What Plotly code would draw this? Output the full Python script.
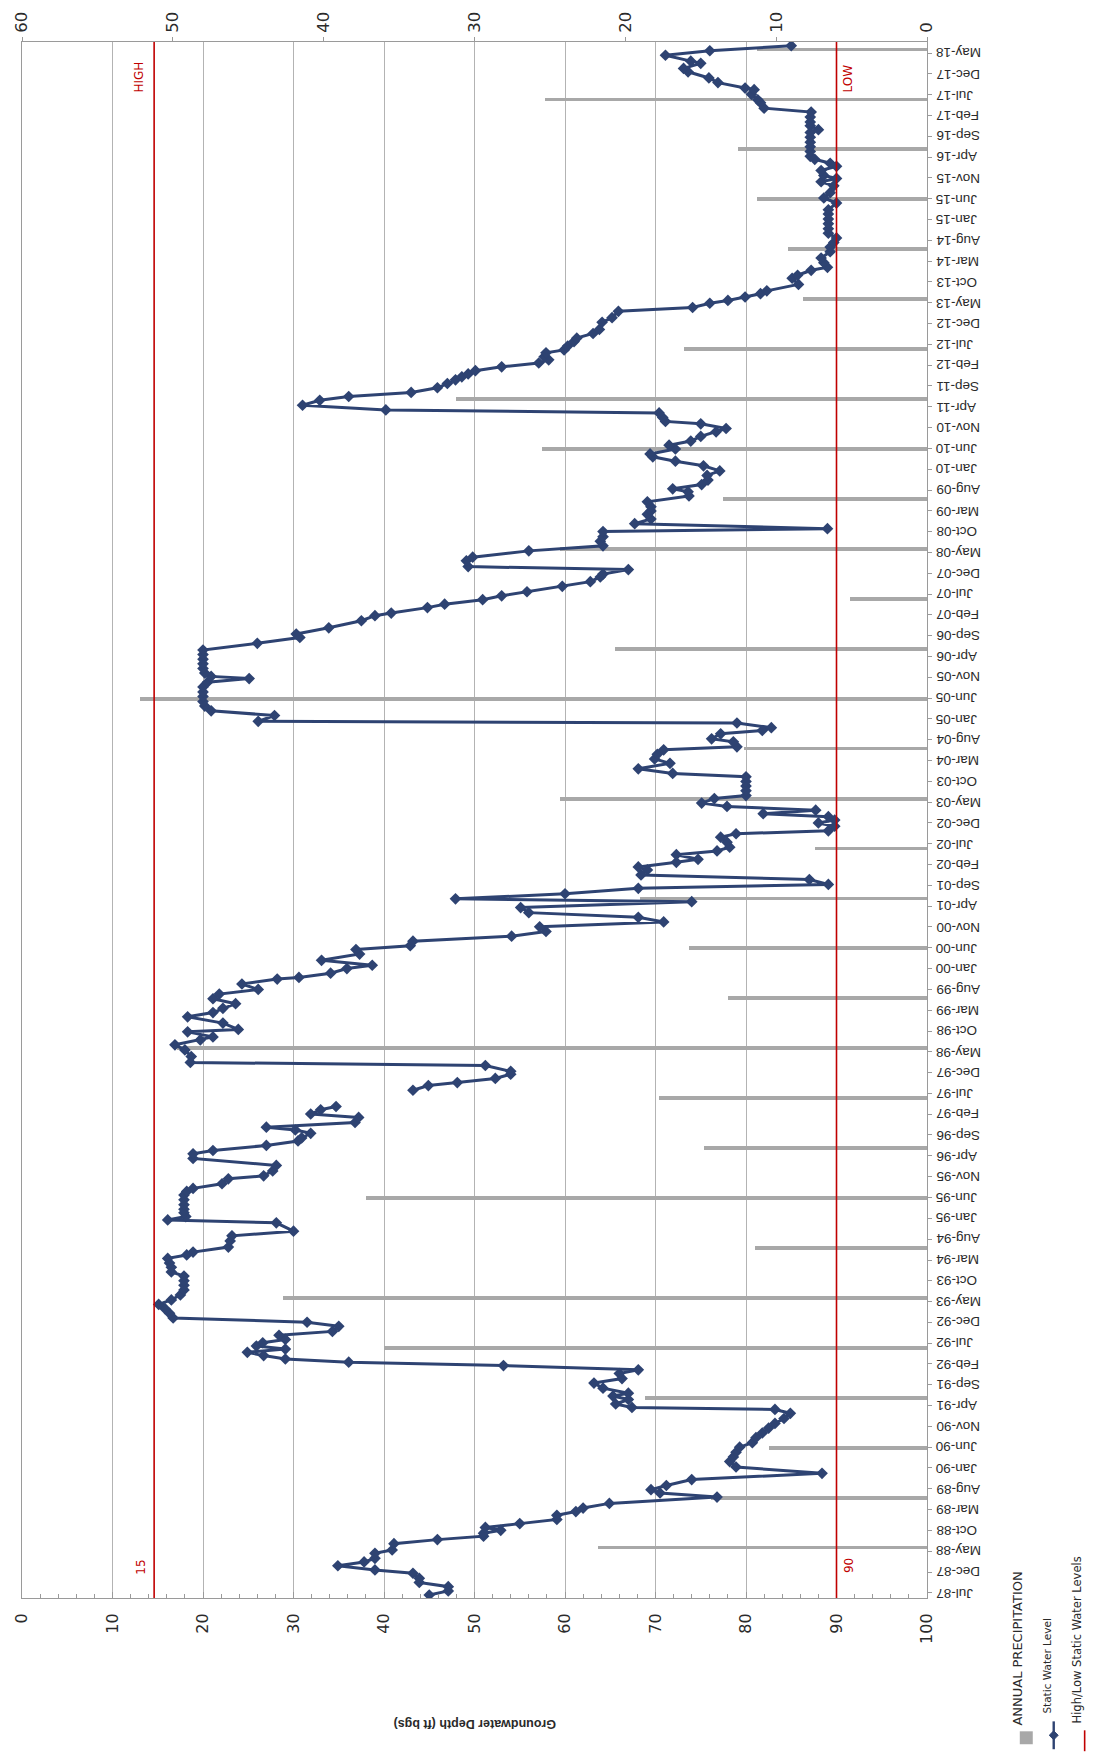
import pandas as pd
import plotly.graph_objects as go

# ---------------- data ----------------
level_dates = [
    "1987-06-16", "1987-07-16", "1987-08-16", "1987-09-16", "1987-10-16", "1987-11-22", "1987-12-16",
    "1988-01-16", "1988-02-13", "1988-03-10", "1988-04-16", "1988-05-10", "1988-06-25", "1988-07-25",
    "1988-08-19", "1988-09-10", "1988-10-01", "1988-10-22", "1988-11-19", "1988-12-19",
    "1989-01-19", "1989-02-15", "1989-03-13", "1989-04-16", "1989-06-01", "1989-07-01", "1989-07-25",
    "1989-08-25", "1989-10-07", "1989-11-22",
    "1990-01-07", "1990-02-16", "1990-03-22", "1990-04-25", "1990-06-01", "1990-07-04", "1990-08-10",
    "1990-09-13", "1990-10-19", "1990-11-22", "1990-12-28",
    "1991-02-04", "1991-03-04", "1991-03-19", "1991-04-13", "1991-05-16", "1991-06-10", "1991-07-01",
    "1991-08-07", "1991-09-13", "1991-10-16", "1991-11-22", "1991-12-19",
    "1992-01-19", "1992-02-13", "1992-03-07", "1992-04-01", "1992-04-25", "1992-05-19", "1992-06-10",
    "1992-07-04", "1992-07-28", "1992-08-28", "1992-09-25", "1992-11-01", "1992-12-01",
    "1993-01-01", "1993-02-04", "1993-03-10", "1993-04-10", "1993-05-13", "1993-06-19", "1993-07-25",
    "1993-08-28", "1993-10-01", "1993-11-04", "1993-12-04",
    "1994-01-07", "1994-02-07", "1994-03-13", "1994-04-07", "1994-04-28", "1994-06-04", "1994-07-19",
    "1994-08-25", "1994-09-28", "1994-11-28", "1994-12-19",
    "1995-01-13", "1995-02-10", "1995-03-07", "1995-04-10", "1995-05-16", "1995-06-19", "1995-07-16",
    "1995-08-07", "1995-09-10", "1995-10-16", "1995-11-07", "1995-12-13",
    "1996-01-22", "1996-03-13", "1996-04-16", "1996-05-10", "1996-06-16", "1996-07-19", "1996-08-10",
    "1996-09-13", "1996-10-07", "1996-10-28", "1996-12-01",
    "1997-01-07", "1997-02-01", "1997-03-04", "1997-03-28", "1997-05-15", "1997-07-25", "1997-08-28",
    "1997-09-19", "1997-10-19", "1997-11-19", "1997-12-10",
    "1998-01-22", "1998-02-13", "1998-03-28", "1998-05-16", "1998-06-22", "1998-07-28", "1998-08-19",
    "1998-09-25", "1998-10-13", "1998-11-28",
    "1999-01-13", "1999-02-13", "1999-03-16", "1999-04-19", "1999-05-25", "1999-06-28", "1999-08-01",
    "1999-09-10", "1999-10-16", "1999-10-28", "1999-11-28",
    "2000-01-01", "2000-01-25", "2000-03-01", "2000-04-16", "2000-05-19", "2000-06-16", "2000-07-19",
    "2000-08-25", "2000-09-28", "2000-11-01", "2000-12-07",
    "2001-01-10", "2001-02-13", "2001-03-22", "2001-05-04", "2001-05-25", "2001-07-01", "2001-08-10",
    "2001-09-07", "2001-10-13", "2001-11-16", "2001-12-22",
    "2002-01-13", "2002-02-16", "2002-03-10", "2002-04-13", "2002-05-10", "2002-06-07", "2002-07-13",
    "2002-08-19", "2002-09-13", "2002-10-04", "2002-11-07", "2002-12-01", "2002-12-22",
    "2003-01-16", "2003-02-07", "2003-03-04", "2003-04-01", "2003-04-25", "2003-05-28", "2003-06-19",
    "2003-07-25", "2003-08-28", "2003-10-01", "2003-11-04", "2003-11-28",
    "2004-01-01", "2004-02-10", "2004-03-13", "2004-04-16", "2004-05-19", "2004-06-10", "2004-07-16",
    "2004-08-07", "2004-09-13", "2004-10-07", "2004-10-28", "2004-12-01", "2004-12-13",
    "2005-01-25", "2005-02-28", "2005-04-04", "2005-05-07", "2005-06-13", "2005-07-16", "2005-08-22",
    "2005-09-25", "2005-10-22", "2005-11-07", "2005-12-01",
    "2006-01-04", "2006-02-07", "2006-03-13", "2006-04-16", "2006-05-19", "2006-07-07", "2006-08-19",
    "2006-09-13", "2006-10-28", "2006-12-19",
    "2007-01-25", "2007-02-13", "2007-03-25", "2007-04-19", "2007-05-22", "2007-06-19", "2007-07-19",
    "2007-08-28", "2007-10-01", "2007-11-04", "2007-11-25", "2007-12-28",
    "2008-01-19", "2008-03-01", "2008-03-28", "2008-05-13", "2008-06-19", "2008-07-22", "2008-08-25",
    "2008-10-01", "2008-10-22", "2008-11-28",
    "2009-01-01", "2009-02-04", "2009-03-01", "2009-04-01", "2009-05-07", "2009-06-19", "2009-07-19",
    "2009-08-10", "2009-09-10", "2009-10-13", "2009-11-16", "2009-12-19",
    "2010-01-25", "2010-02-28", "2010-04-01", "2010-04-22", "2010-05-28", "2010-06-25", "2010-07-25",
    "2010-08-28", "2010-10-01", "2010-10-25", "2010-11-28", "2010-12-16",
    "2011-01-13", "2011-02-16", "2011-03-10", "2011-04-13", "2011-05-19", "2011-06-16", "2011-07-16",
    "2011-08-19", "2011-09-19", "2011-10-16", "2011-11-07", "2011-11-28", "2011-12-22",
    "2012-01-19", "2012-02-16", "2012-03-10", "2012-04-01", "2012-05-01", "2012-05-22", "2012-06-19",
    "2012-07-22", "2012-08-16", "2012-09-19", "2012-10-19", "2012-12-10",
    "2013-01-13", "2013-02-28", "2013-03-28", "2013-04-28", "2013-05-19", "2013-06-13", "2013-07-07",
    "2013-07-28", "2013-09-13", "2013-10-28", "2013-11-19", "2013-12-25",
    "2014-01-16", "2014-02-19", "2014-03-25", "2014-05-10", "2014-06-13", "2014-07-16", "2014-08-19",
    "2014-09-22", "2014-10-25", "2014-12-01",
    "2015-01-04", "2015-02-10", "2015-03-13", "2015-05-01", "2015-06-07", "2015-07-16", "2015-09-04",
    "2015-10-04", "2015-10-28", "2015-11-19", "2015-12-25",
    "2016-01-25", "2016-02-16", "2016-03-16", "2016-04-07", "2016-05-13", "2016-06-16", "2016-07-19",
    "2016-08-25", "2016-09-28", "2016-10-19", "2016-11-16", "2016-12-13",
    "2017-01-19", "2017-02-25", "2017-03-25", "2017-05-04", "2017-05-25", "2017-07-04", "2017-08-07",
    "2017-08-19", "2017-09-28", "2017-11-01", "2017-12-16",
    "2018-01-10", "2018-02-16", "2018-03-04", "2018-04-16", "2018-05-19", "2018-06-25",
]

level_depth = [
    45.0, 47.1, 47.1, 43.9, 43.9, 43.2, 39.0,
    34.9, 37.8, 39.0, 39.0, 40.9, 41.1, 45.9,
    51.0, 51.0, 52.9, 51.2, 55.0, 59.1,
    59.1, 61.2, 62.0, 64.9, 76.8, 70.5, 69.5,
    71.2, 74.0, 88.4,
    78.9, 78.2, 78.6, 78.9, 79.3, 80.7, 81.1,
    81.8, 82.5, 83.2, 84.2,
    84.9, 83.2, 67.4, 65.6, 67.0, 65.3, 67.0,
    64.2, 63.2, 66.3, 66.0, 68.1,
    53.2, 36.1, 29.1, 26.7, 24.9, 29.1, 25.9,
    26.6, 29.1, 28.4, 34.3, 35.0, 31.5,
    16.7, 16.3, 15.8, 15.1, 16.5, 17.5, 17.9,
    17.9, 17.9, 17.9, 16.5,
    16.5, 16.3, 16.1, 18.2, 18.9, 22.8, 23.0,
    23.2, 30.0, 28.1, 16.1,
    18.1, 17.9, 17.9, 17.9, 17.9, 17.9, 18.2,
    18.9, 22.1, 22.8, 26.7, 27.7,
    28.1, 18.9, 18.9, 21.1, 27.0, 30.5, 30.9,
    31.9, 30.2, 27.0, 36.8,
    37.2, 31.9, 33.0, 34.7, None, 43.2, 44.9,
    48.1, 52.3, 54.0, 54.0,
    51.2, 18.6, 18.7, 18.0, 16.9, 19.7, 21.1,
    18.3, 23.9, 22.2,
    18.3, 21.1, 22.2, 23.6, 21.1, 21.8, 26.1,
    24.3, 28.2, 30.6, 34.1,
    35.9, 38.7, 33.1, 37.3, 36.9, 42.9, 43.2,
    54.1, 57.9, 57.2, 70.9,
    68.1, 56.0, 55.1, 74.0, 47.9, 60.0, 68.1,
    89.1, 87.0, 68.4, 69.1,
    68.1, 72.3, 74.7, 72.3, 76.8, 78.2, 77.9,
    77.2, 78.9, 89.1, 89.8, 88.0, 89.8,
    89.1, 81.9, 87.7, 77.9, 75.1, 76.5, 80.0,
    80.0, 80.0, 80.0, 80.0, 71.9,
    68.1, 71.6, 69.9, 70.2, 70.9, 79.0, 78.6,
    76.2, 77.2, 81.8, 82.8, 79.0, 26.1,
    27.9, 20.9, 20.2, 20.0, 20.0, 20.0, 20.0,
    20.5, 25.1, 20.9, 20.2,
    20.0, 20.0, 20.0, 20.0, 20.0, 26.0, 30.7,
    30.3, 33.9, 37.5,
    39.0, 40.8, 44.8, 46.7, 50.9, 53.0, 55.8,
    59.7, 62.8, 63.9, 64.2, 67.0,
    49.3, 49.1, 49.8, 56.0, 64.2, 63.9, 64.2,
    64.2, 89.0, 67.7,
    69.5, 69.1, 69.5, 69.5, 69.1, 73.7, 73.6,
    71.9, 75.1, 75.8, 75.7, 77.1,
    75.3, 72.2, 69.7, 69.4, 72.2, 71.5, 73.9,
    75.0, 76.7, 77.8, 75.0, 71.1,
    70.8, 70.4, 40.2, 31.0, 32.9, 36.1, 43.0,
    45.9, 47.0, 47.9, 48.6, 49.3, 50.1,
    53.0, 57.1, 58.2, 57.7, 57.9, 59.9, 60.3,
    61.0, 61.3, 63.1, 63.8, 64.1,
    65.2, 65.9, 74.1, 76.0, 78.0, 79.9, 81.6,
    82.3, 85.8, 85.1, 85.7, 87.2,
    89.0, 88.6, 88.3, 89.3, 89.3, 89.7, 90.0,
    89.1, 89.1, 89.1,
    89.1, 89.1, 89.1, 90.0, 88.6, 89.3, 89.7,
    88.3, 90.0, 88.6, 88.3,
    90.0, 89.3, 87.6, 87.1, 87.1, 87.1, 87.1,
    87.1, 87.1, 88.0, 87.1, 87.1,
    87.1, 87.2, 82.0, 81.6, 81.3, 80.6, 80.9,
    79.9, 76.9, 75.9, 73.6,
    73.1, 75.0, 73.9, 71.1, 76.0, 85.0,
]

precip_dates = [f"{yr}-05-28" for yr in range(1988, 2019)]
precip_inches = [
    21.8, 14.3, 10.5, 18.7, 36.0, 42.7, 11.4, 37.2, 14.8, 17.8,
    49.7, 13.2, 15.8, 19.0, 7.4, 24.3, 12.1, 52.2, 20.7, 5.1,
    24.3, 13.5, 25.5, 31.2, 16.1, 8.2, 9.2, 11.3, 12.5, 25.3, 11.3,
]

high_level = 14.6      # drawn position of the "15" line
low_level = 90
high_label_value, low_label_value = "15", "90"
high_text, low_text = "HIGH", "LOW"
legend_labels = ["ANNUAL PRECIPITATION", "Static Water Level", "High/Low Static Water Levels"]
depth_title = "Groundwater Depth (ft bgs)"
date_range = ["1987-05-25", "2018-07-22"]
date_ticks = list(pd.date_range("1987-07-01", "2018-05-01", freq="5MS"))
date_tick_labels = [d.strftime("%b-%y") for d in date_ticks]

# ---------------- styling / layout ----------------
W, H = 1099, 1762
ML, MR, MT, MB = 20, 172, 34, 164
PW, PH = W - ML - MR, H - MT - MB

def pxx(x):
    return (x - ML) / PW

def pxy(y):
    return (H - MB - y) / PH

NAVY = "#2E4372"
RED = "#C00000"
BARGRAY = "#A8A8A8"
GRID = "#B3B3B3"
AXIS = "#9A9A9A"
TXT = "#2A2A2A"
WIDE = "DejaVu Sans, Verdana, sans-serif"
NARROW = "Liberation Sans Narrow, Arial Narrow, Liberation Sans, sans-serif"

fig = go.Figure()

fig.add_trace(go.Bar(
    x=precip_inches, y=precip_dates, orientation="h",
    xaxis="x", yaxis="y",
    marker=dict(color=BARGRAY, line=dict(width=0)),
    width=2.4e9, name=legend_labels[0], showlegend=False,
))

fig.add_trace(go.Scatter(
    x=level_depth, y=level_dates, xaxis="x2", yaxis="y",
    mode="lines+markers", connectgaps=False,
    line=dict(color=NAVY, width=3),
    marker=dict(symbol="diamond", size=9, color=NAVY),
    name=legend_labels[1], showlegend=False,
))

shapes = []
for lvl in (high_level, low_level):
    shapes.append(dict(type="line", xref="x2", yref="paper", x0=lvl, x1=lvl, y0=0, y1=1,
                       line=dict(color=RED, width=1.6), layer="above"))

# legend symbols (rotated like the scan)
shapes.append(dict(type="rect", xref="paper", yref="paper",
                   x0=pxx(1020), x1=pxx(1033), y0=pxy(1745), y1=pxy(1732),
                   fillcolor=BARGRAY, line=dict(width=0)))
shapes.append(dict(type="line", xref="paper", yref="paper",
                   x0=pxx(1054), x1=pxx(1054), y0=pxy(1750), y1=pxy(1722),
                   line=dict(color=NAVY, width=2.4)))
cx, cy, r = 1054, 1736, 4.5
path = (f"M {pxx(cx)} {pxy(cy - r)} L {pxx(cx + r)} {pxy(cy)} "
        f"L {pxx(cx)} {pxy(cy + r)} L {pxx(cx - r)} {pxy(cy)} Z")
shapes.append(dict(type="path", xref="paper", yref="paper", path=path,
                   fillcolor=NAVY, line=dict(color=NAVY, width=1)))
shapes.append(dict(type="line", xref="paper", yref="paper",
                   x0=pxx(1085), x1=pxx(1085), y0=pxy(1752), y1=pxy(1731),
                   line=dict(color=RED, width=1.6)))

red_font = dict(family=WIDE, size=12, color=RED)
annotations = [
    dict(text=high_text, xref="x2", yref="paper", x=high_level, xshift=-15, y=pxy(52),
         textangle=-90, showarrow=False, font=red_font),
    dict(text=low_text, xref="x2", yref="paper", x=low_level, xshift=11, y=pxy(55),
         textangle=-90, showarrow=False, font=red_font),
    dict(text=high_label_value, xref="x2", yref="paper", x=high_level, xshift=-14, y=pxy(1577),
         textangle=-90, showarrow=False, font=red_font),
    dict(text=low_label_value, xref="x2", yref="paper", x=low_level, xshift=12, y=pxy(1575),
         textangle=-90, showarrow=False, font=red_font),
    dict(text="<b>" + depth_title + "</b>", xref="paper", yref="paper", x=0.5, y=pxy(1733),
         textangle=180, showarrow=False, font=dict(family=NARROW, size=12.5, color=TXT)),
    dict(text=legend_labels[0], xref="paper", yref="paper", x=pxx(1027), y=pxy(1728),
         yanchor="bottom", textangle=-90, showarrow=False,
         font=dict(family=WIDE, size=13, color=TXT)),
    dict(text=legend_labels[1], xref="paper", yref="paper", x=pxx(1055), y=pxy(1716),
         yanchor="bottom", textangle=-90, showarrow=False,
         font=dict(family=WIDE, size=10.5, color=TXT)),
    dict(text=legend_labels[2], xref="paper", yref="paper", x=pxx(1086), y=pxy(1726),
         yanchor="bottom", textangle=-90, showarrow=False,
         font=dict(family=WIDE, size=11.5, color=TXT)),
]

# date tick labels: upside-down text, left edge next to the right-hand axis
for d, lbl in zip(date_ticks, date_tick_labels):
    annotations.append(dict(
        text=lbl, xref="paper", yref="y", x=1, xshift=7, y=d.strftime("%Y-%m-%d"),
        xanchor="left", yanchor="middle", textangle=180, showarrow=False,
        font=dict(family=NARROW, size=13.5, color=TXT),
    ))

fig.update_layout(
    width=W, height=H,
    margin=dict(l=ML, r=MR, t=MT, b=MB, pad=0),
    paper_bgcolor="white", plot_bgcolor="white",
    showlegend=False, bargap=0,
    xaxis=dict(
        side="top", range=[60, 0], dtick=10, tick0=0, anchor="y",
        showgrid=False, zeroline=False, showline=True, linecolor=AXIS, linewidth=1,
        ticks="outside", ticklen=4, tickcolor=AXIS, tickangle=-90,
        ticklabelstandoff=1,
        tickfont=dict(family=WIDE, size=16.5, color=TXT),
    ),
    xaxis2=dict(
        overlaying="x", side="bottom", range=[0, 100], dtick=10, tick0=0, anchor="y",
        showgrid=True, gridcolor=GRID, gridwidth=1, zeroline=False,
        showline=True, linecolor=AXIS, linewidth=1,
        ticks="inside", ticklen=6, tickcolor=AXIS, tickangle=-90,
        minor=dict(dtick=2, ticks="inside", ticklen=4, tickcolor=AXIS, showgrid=False),
        ticklabelstandoff=8,
        tickfont=dict(family=WIDE, size=16, color=TXT),
    ),
    yaxis=dict(
        type="date", side="right", range=date_range,
        tickvals=[d.strftime("%Y-%m-%d") for d in date_ticks], showticklabels=False,
        showgrid=False, zeroline=False, showline=True, mirror=True,
        linecolor=AXIS, linewidth=1, ticks="outside", ticklen=4, tickcolor=AXIS,
    ),
    shapes=shapes,
    annotations=annotations,
)

fig.write_html(
    "out.html",
    config={"displayModeBar": False},
    post_script="document.body.style.margin='0';document.body.style.overflow='hidden';",
)
